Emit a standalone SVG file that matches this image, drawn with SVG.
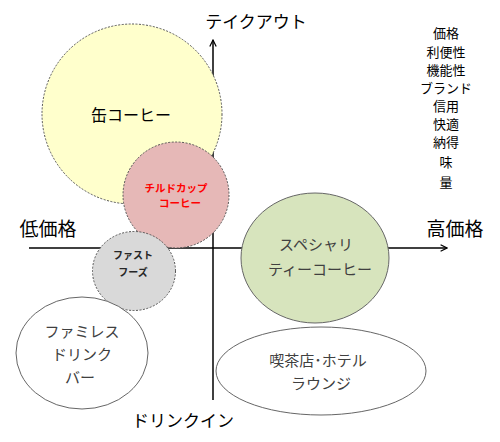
<svg xmlns="http://www.w3.org/2000/svg" width="500" height="442" viewBox="0 0 500 442">
<defs>
<style>
text{font-family:"Noto Sans CJK JP","Noto Sans CJK SC",sans-serif;text-anchor:middle;}
.ax{font-size:17px;fill:#000;}
.ax2{font-size:19px;fill:#000;}
.lst{font-size:13px;fill:#000;}
.dash{stroke:#555;stroke-width:1;stroke-dasharray:2 1.5;}
.solid{stroke:#666;stroke-width:1;}
.lbl{font-size:15px;fill:#404040;}
.axis{stroke:#000;stroke-width:1.5;fill:none;}
</style>
<marker id="arr" viewBox="0 0 10 10" refX="9" refY="5" markerWidth="8" markerHeight="8" orient="auto" markerUnits="userSpaceOnUse">
<path d="M1,1 L9,5 L1,9" fill="none" stroke="#000" stroke-width="1.5"/>
</marker>
</defs>
<rect width="500" height="442" fill="#fff"/>
<g id="connectors">
<line class="axis" x1="29" y1="248" x2="447" y2="248" marker-end="url(#arr)"/>
<line class="axis" x1="213" y1="400" x2="213" y2="40" marker-end="url(#arr)"/>
</g>
<g id="kan">
<circle cx="132" cy="114" r="90" fill="#FFFFCC" class="dash"/>
<text x="131" y="121" style="font-size:16px;fill:#000">缶コーヒー</text>
</g>
<g id="chilled">
<circle cx="176" cy="195" r="53" fill="#E6B8B7" class="dash"/>
<text x="176" y="192" style="font-size:10.5px;font-weight:bold;fill:#FF0000">チルドカップ</text>
<text x="180" y="207" style="font-size:10.5px;font-weight:bold;fill:#FF0000">コーヒー</text>
</g>
<g id="fastfood">
<ellipse cx="134" cy="271" rx="41.5" ry="39.5" fill="#D9D9D9" class="dash"/>
<text x="133" y="259" style="font-size:10px;font-weight:bold;fill:#262626">ファスト</text>
<text x="133" y="276" style="font-size:10px;font-weight:bold;fill:#262626">フーズ</text>
</g>
<g id="specialty">
<ellipse cx="315" cy="258" rx="74" ry="65" fill="#D7E4BD" class="solid"/>
<text class="lbl" x="316" y="250">スペシャリ</text>
<text class="lbl" x="320" y="275">ティーコーヒー</text>
</g>
<g id="famires">
<ellipse cx="82" cy="353" rx="66" ry="56" fill="#fff" class="solid"/>
<text class="lbl" x="82" y="337">ファミレス</text>
<text class="lbl" x="82" y="360">ドリンク</text>
<text class="lbl" x="80" y="383">バー</text>
</g>
<g id="kissaten">
<ellipse cx="321" cy="371" rx="105" ry="44" fill="#fff" class="solid"/>
<text class="lbl" x="318" y="366">喫茶店･ホテル</text>
<text class="lbl" x="321" y="389">ラウンジ</text>
</g>
<g id="axis-labels">
<text class="ax" x="256" y="28">テイクアウト</text>
<text class="ax2" x="48" y="236">低価格</text>
<text class="ax2" x="455" y="236">高価格</text>
<text class="ax" x="183" y="427">ドリンクイン</text>
</g>
<g id="list">
<text class="lst" x="446" y="38">価格</text>
<text class="lst" x="446" y="57">利便性</text>
<text class="lst" x="446" y="75">機能性</text>
<text class="lst" x="446" y="93">ブランド</text>
<text class="lst" x="446" y="111">信用</text>
<text class="lst" x="446" y="129">快適</text>
<text class="lst" x="446" y="147">納得</text>
<text class="lst" x="446" y="167">味</text>
<text class="lst" x="446" y="187">量</text>
</g>
</svg>
